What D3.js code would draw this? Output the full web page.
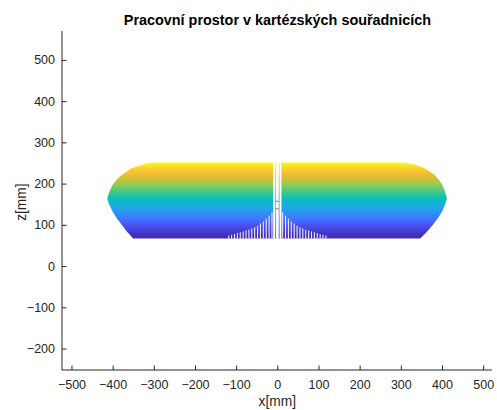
<!DOCTYPE html>
<html>
<head>
<meta charset="utf-8">
<script src="https://cdn.jsdelivr.net/npm/d3@7"></script>
<style>
  html, body { margin: 0; padding: 0; background: #fff; }
  svg { display: block; font-family: "Liberation Sans", Arial, Helvetica, sans-serif; }
</style>
</head>
<body>
<script>
// Axis ticks
const xTicks = [-500, -400, -300, -200, -100, 0, 100, 200, 300, 400, 500];
const zTicks = [-200, -100, 0, 100, 200, 300, 400, 500];

// Workspace outline [mm], traced clockwise from the top-left end of the flat top
const outlineX = [-305, 305, 320, 338, 356, 370, 382, 392, 401, 407, 412, 407, 400, 390, 378, 364, 347,
                  -350, -365, -378, -390, -400, -408, -413, -408, -400, -390, -378, -365, -354, -334, -318];
const outlineZ = [251, 251, 249, 245, 238, 230, 221, 210, 197, 181, 164, 148, 132, 116, 100, 84, 67,
                  67, 83, 100, 116, 132, 148, 164, 181, 197, 210, 221, 230, 237, 244, 249];

// Unreached columns near x = 0 (bottom of the workspace up to the given height) [mm]
const spikeX   = [-118, -111, -104, -97, -90, -83, -76, -69, -62, -55, -48, -41, -34, -27, -20, -13,
                   13, 20, 27, 34, 41, 48, 55, 62, 69, 76, 83, 90, 97, 104, 111, 118];
const spikeTop = [74, 76, 78, 80, 82, 84, 86, 88, 91, 94, 98, 103, 108, 115, 122, 130,
                  130, 122, 115, 108, 103, 98, 94, 91, 88, 86, 84, 82, 80, 78, 76, 74];

// Narrow gap along the z axis [mm]
const channelEdges = [-10, 10];
const channelLinesX = [-4.2, 4.6];
const channelMarksZ = [139, 157];

// Colour by height (parula)
const zColorRange = [67, 251];
const parulaT = [0.000, 0.175, 0.238, 0.302, 0.365, 0.429, 0.492, 0.556, 0.619, 0.683, 0.746, 0.810, 0.873, 0.937, 1.000];
const parulaColors = ["#3e26a8", "#4852f4", "#446dfe", "#3586fa", "#299cee", "#1caede", "#07bac8", "#1bc2a9",
                      "#45ca86", "#7acc63", "#b2c742", "#dfbd31", "#fbc037", "#f7da27", "#f9fb15"];

const W = 497, H = 410;
const plot = { left: 62, right: 491.8, top: 31, bottom: 370 };

const x = d3.scaleLinear().domain([-523, 521]).range([plot.left, plot.right]);
const z = d3.scaleLinear().domain([-252, 570]).range([plot.bottom, plot.top]);

const svg = d3.select("body").append("svg")
  .attr("width", W).attr("height", H)
  .attr("viewBox", `0 0 ${W} ${H}`);

svg.append("rect").attr("width", W).attr("height", H).attr("fill", "#fff");

// Height gradient
const defs = svg.append("defs");
const grad = defs.append("linearGradient")
  .attr("id", "zgrad")
  .attr("gradientUnits", "userSpaceOnUse")
  .attr("x1", 0).attr("x2", 0)
  .attr("y1", z(zColorRange[0])).attr("y2", z(zColorRange[1]));
grad.selectAll("stop").data(parulaT).join("stop")
  .attr("offset", d => d)
  .attr("stop-color", (d, i) => parulaColors[i]);

const g = svg.append("g");

// Workspace area
const outline = outlineX.map((v, i) => [v, outlineZ[i]]);
g.append("path")
  .attr("d", d3.line().x(d => x(d[0])).y(d => z(d[1]))(outline) + "Z")
  .attr("fill", "url(#zgrad)");

// Sparse bottom row
g.append("line")
  .attr("x1", x(-345)).attr("x2", x(345))
  .attr("y1", z(67) - 0.5).attr("y2", z(67) - 0.5)
  .attr("stroke", "#fff").attr("stroke-width", 1)
  .attr("stroke-dasharray", "1 2").attr("opacity", 0.22);

// Gap along the z axis
g.append("rect")
  .attr("x", x(channelEdges[0])).attr("width", x(channelEdges[1]) - x(channelEdges[0]))
  .attr("y", z(252)).attr("height", z(66) - z(252))
  .attr("fill", "#fff");

g.selectAll("line.chan").data(channelLinesX).join("line")
  .attr("class", "chan")
  .attr("x1", d => x(d)).attr("x2", d => x(d))
  .attr("y1", z(251)).attr("y2", z(67))
  .attr("stroke", "url(#zgrad)").attr("stroke-width", 1.1)
  .attr("opacity", 0.7);

g.selectAll("line.mark").data(channelMarksZ).join("line")
  .attr("class", "mark")
  .attr("x1", x(channelLinesX[0])).attr("x2", x(channelLinesX[1]))
  .attr("y1", d => z(d)).attr("y2", d => z(d))
  .attr("stroke", "#8a8a8a").attr("stroke-width", 1);

// Unreached columns
g.selectAll("line.spike").data(spikeX).join("line")
  .attr("class", "spike")
  .attr("x1", d => x(d)).attr("x2", d => x(d))
  .attr("y1", z(66)).attr("y2", (d, i) => z(spikeTop[i]))
  .attr("stroke", "#fff").attr("stroke-width", 1.1)
  .attr("opacity", 0.9);

// Axes (ticks pointing inward, no box)
const axisColor = "#262626";
const xAxis = svg.append("g").attr("transform", `translate(0,${plot.bottom})`)
  .call(d3.axisBottom(x).tickValues(xTicks).tickSize(-4.5).tickPadding(10).tickSizeOuter(0));
const zAxis = svg.append("g").attr("transform", `translate(${plot.left},0)`)
  .call(d3.axisLeft(z).tickValues(zTicks).tickSize(-4.5).tickPadding(7).tickSizeOuter(0));

[xAxis, zAxis].forEach(a => {
  a.select(".domain").attr("stroke", axisColor).attr("stroke-width", 1);
  a.selectAll(".tick line").attr("stroke", axisColor).attr("stroke-width", 1);
  a.selectAll(".tick text")
    .attr("fill", axisColor)
    .style("font-family", "'Liberation Sans', Arial, sans-serif")
    .style("font-size", "12.5px");
});
xAxis.select(".domain").attr("d", `M${plot.left},0H${plot.right}`);
zAxis.select(".domain").attr("d", `M0,${plot.bottom}V${plot.top}`);

// Labels
svg.append("text")
  .attr("x", x(0)).attr("y", 406)
  .attr("text-anchor", "middle")
  .attr("fill", axisColor)
  .style("font-size", "13.75px")
  .text("x[mm]");

svg.append("text")
  .attr("transform", `translate(25.5,${z(155)}) rotate(-90)`)
  .attr("text-anchor", "middle")
  .attr("fill", axisColor)
  .style("font-size", "13.75px")
  .text("z[mm]");

svg.append("text")
  .attr("x", 277.4).attr("y", 25)
  .attr("text-anchor", "middle")
  .attr("fill", "#000")
  .style("font-size", "14.4px")
  .style("font-weight", "bold")
  .text("Pracovní prostor v kartézských souřadnicích");
</script>
</body>
</html>
